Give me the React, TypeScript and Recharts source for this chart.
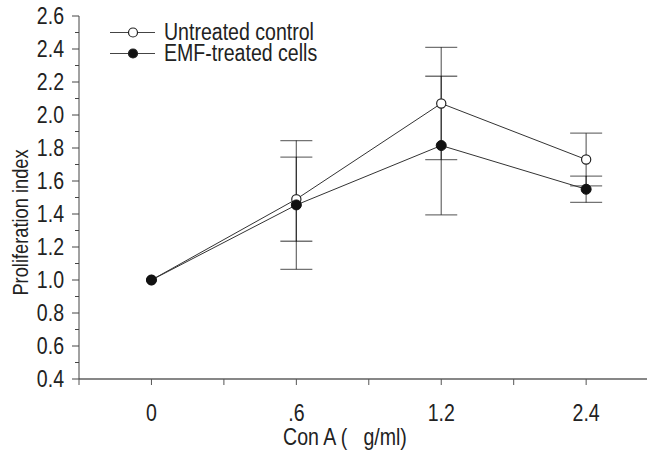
import React from 'react'
import { LineChart, Line, XAxis, YAxis, ErrorBar } from 'recharts'

const categories = ['0', '.6', '1.2', '2.4']
const controlValues = [1.0, 1.49, 2.07, 1.73]
const controlErrors = [null, 0.255, 0.34, 0.16]
const emfValues = [1.0, 1.455, 1.815, 1.55]
const emfErrors = [null, 0.39, 0.42, 0.08]

const yTicks = [0.4, 0.5, 0.6, 0.7, 0.8, 0.9, 1.0, 1.1, 1.2, 1.3, 1.4, 1.5, 1.6, 1.7, 1.8, 1.9, 2.0, 2.1, 2.2, 2.3, 2.4, 2.5, 2.6]
const xTicks = [-0.5, 0, 0.5, 1, 1.5, 2, 2.5, 3]

// no condensed Helvetica available, so squeeze Liberation Sans horizontally
const FONT = "'Liberation Sans', Arial, sans-serif"
const SQUEEZE = 0.85
const INK = '#222'

const data = categories.map((c, i) => ({
  x: i,
  label: c,
  control: controlValues[i],
  controlErr: controlErrors[i],
  emf: emfValues[i],
  emfErr: emfErrors[i],
}))

const legendItems = [
  { name: 'Untreated control', fill: '#fff' },
  { name: 'EMF-treated cells', fill: '#111' },
]

const NarrowText = ({ x, y, size, anchor, rotate, children }: any) => (
  <g transform={`translate(${x}, ${y})${rotate ? ` rotate(${rotate})` : ''} scale(${SQUEEZE}, 1)`}>
    <text x={0} y={0} textAnchor={anchor} fontSize={size} fontFamily={FONT} fill={INK} style={{ whiteSpace: 'pre' }}>
      {children}
    </text>
  </g>
)

const YTick = (props: any) => {
  const { x, y, payload } = props
  const major = Math.round(payload.value * 10) % 2 === 0
  return (
    <g>
      <line x1={x} x2={x - (major ? 7 : 4)} y1={y} y2={y} stroke="#444" strokeWidth={1} />
      {major && (
        <NarrowText x={x - 15} y={y + 8} size={23} anchor="end">
          {payload.value.toFixed(1)}
        </NarrowText>
      )}
    </g>
  )
}

const XTick = (props: any) => {
  const { x, y, payload } = props
  const idx = payload.value
  const major = Number.isInteger(idx)
  return (
    <g>
      <line x1={x} x2={x} y1={y} y2={y + 6} stroke="#555" strokeWidth={1} />
      {major && (
        <NarrowText x={x} y={y + 42} size={23} anchor="middle">
          {categories[idx]}
        </NarrowText>
      )}
    </g>
  )
}

const ChartLegend = () => (
  <div style={{ position: 'absolute', left: 108, top: 22, fontFamily: FONT, fontSize: 23, color: INK }}>
    {legendItems.map((item) => (
      <div key={item.name} style={{ display: 'flex', alignItems: 'center', height: 21 }}>
        <svg width={50} height={21} style={{ display: 'block' }}>
          <line x1={2} x2={47} y1={10.5} y2={10.5} stroke="#444" strokeWidth={1} />
          <circle cx={25} cy={10.5} r={4.5} fill={item.fill} stroke={INK} strokeWidth={1.2} />
        </svg>
        <span
          style={{
            marginLeft: 6,
            lineHeight: '21px',
            whiteSpace: 'nowrap',
            display: 'inline-block',
            transform: `scaleX(${SQUEEZE})`,
            transformOrigin: 'left center',
          }}
        >
          {item.name}
        </span>
      </div>
    ))}
  </div>
)

const OpenDot = (props: any) => {
  const { cx, cy } = props
  if (cx == null || cy == null) return null
  return <circle cx={cx} cy={cy} r={4.6} fill="#fff" stroke={INK} strokeWidth={1.2} />
}

const FilledDot = (props: any) => {
  const { cx, cy } = props
  if (cx == null || cy == null) return null
  return <circle cx={cx} cy={cy} r={5} fill="#111" stroke="#111" strokeWidth={1} />
}

export default function App() {
  return (
    <div style={{ position: 'absolute', left: 0, top: 0, width: 647, height: 452, background: '#fff', overflow: 'hidden' }}>
      <LineChart width={647} height={452} data={data} margin={{ top: 16, right: 0, left: 0, bottom: 0 }}>
        <XAxis
          dataKey="x"
          type="number"
          domain={[-0.5, 3.42]}
          allowDataOverflow
          ticks={xTicks}
          interval={0}
          tick={<XTick />}
          tickLine={false}
          tickSize={0}
          tickMargin={0}
          height={73}
          axisLine={{ stroke: '#111', strokeWidth: 1.2 }}
          label={{
            content: (p: any) => {
              const vb = p.viewBox
              return (
                <NarrowText x={vb.x + vb.width / 2 - 18} y={vb.y + 66} size={23} anchor="middle">
                  {'Con A (   g/ml)'}
                </NarrowText>
              )
            },
          }}
        />
        <YAxis
          type="number"
          domain={[0.4, 2.6]}
          allowDataOverflow
          ticks={yTicks}
          interval={0}
          tick={<YTick />}
          tickLine={false}
          tickSize={0}
          tickMargin={0}
          width={79}
          axisLine={{ stroke: '#444', strokeWidth: 1 }}
          label={{
            content: (p: any) => {
              const vb = p.viewBox
              return (
                <NarrowText x={28} y={vb.y + vb.height / 2 + 25} size={21.5} anchor="middle" rotate={-90}>
                  Proliferation index
                </NarrowText>
              )
            },
          }}
        />
        <Line dataKey="control" stroke="none" dot={false} activeDot={false} legendType="none" isAnimationActive={false}>
          <ErrorBar dataKey="controlErr" width={16} stroke="#000" strokeOpacity={0.55} strokeWidth={1.3} direction="y" isAnimationActive={false} />
        </Line>
        <Line dataKey="emf" stroke="none" dot={false} activeDot={false} legendType="none" isAnimationActive={false}>
          <ErrorBar dataKey="emfErr" width={16} stroke="#000" strokeOpacity={0.55} strokeWidth={1.3} direction="y" isAnimationActive={false} />
        </Line>
        <Line type="linear" dataKey="control" name="Untreated control" stroke="#333" strokeWidth={1} dot={<OpenDot />} activeDot={false} isAnimationActive={false} />
        <Line type="linear" dataKey="emf" name="EMF-treated cells" stroke="#333" strokeWidth={1} dot={<FilledDot />} activeDot={false} isAnimationActive={false} />
      </LineChart>
      <ChartLegend />
    </div>
  )
}
